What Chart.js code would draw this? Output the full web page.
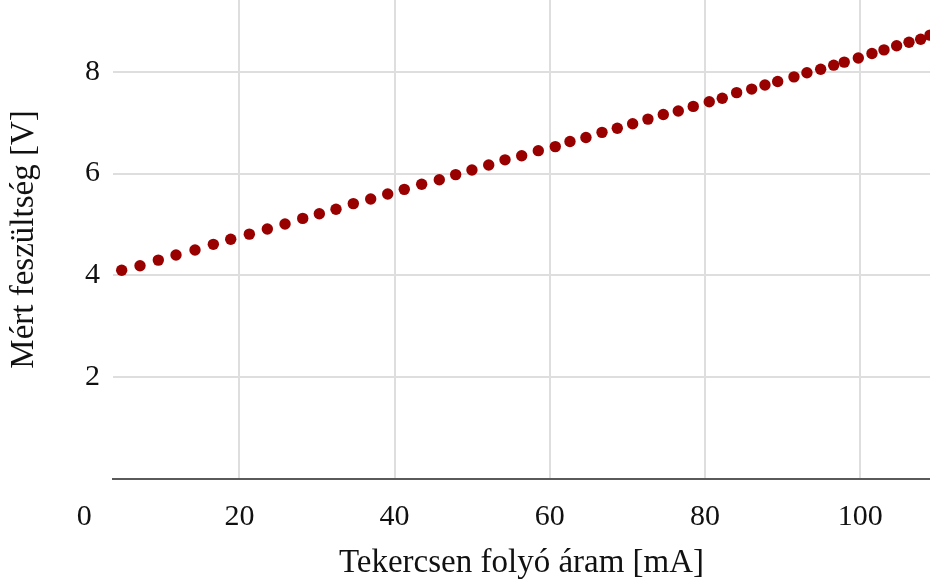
<!DOCTYPE html>
<html>
<head>
<meta charset="utf-8">
<script src="https://cdn.jsdelivr.net/npm/chart.js@4/dist/chart.umd.min.js"></script>
<style>
  body { margin: 0; background: #fff; }
  #wrap { width: 930px; height: 580px; }
</style>
</head>
<body>
<div id="wrap"><canvas id="coilChart" width="930" height="580"></canvas></div>
<script>
// measured current (mA) and voltage (V)
const currentMA = [4.83, 7.19, 9.55, 11.83, 14.28, 16.64, 18.88, 21.28, 23.60, 25.88,
  28.16, 30.30, 32.45, 34.68, 36.92, 39.11, 41.25, 43.49, 45.76, 47.87,
  49.97, 52.13, 54.23, 56.38, 58.52, 60.71, 62.60, 64.66, 66.73, 68.70,
  70.68, 72.65, 74.63, 76.56, 78.49, 80.55, 82.23, 84.08, 86.02, 87.73,
  89.37, 91.47, 93.14, 94.91, 96.59, 97.95, 99.76, 101.52, 103.07, 104.70,
  106.29, 107.80, 109.0];
const voltageV = [4.10, 4.19, 4.30, 4.40, 4.50, 4.61, 4.71, 4.81, 4.91, 5.01,
  5.12, 5.21, 5.30, 5.41, 5.50, 5.60, 5.69, 5.79, 5.88, 5.98,
  6.07, 6.17, 6.27, 6.35, 6.45, 6.53, 6.63, 6.71, 6.81, 6.89,
  6.98, 7.07, 7.16, 7.23, 7.32, 7.41, 7.48, 7.59, 7.66, 7.74,
  7.81, 7.90, 7.98, 8.05, 8.13, 8.19, 8.27, 8.36, 8.43, 8.51,
  8.58, 8.64, 8.72];

const xTicks = [0, 20, 40, 60, 80, 100];
const yTicks = [2, 4, 6, 8];

const points = currentMA.map((x, i) => ({ x: x, y: voltageV[i] }));

const serif = "'Liberation Serif', 'Times New Roman', serif";

const ctx = document.getElementById("coilChart").getContext("2d");

new Chart(ctx, {
  type: "scatter",
  data: {
    datasets: [
      {
        label: "Mért feszültség",
        data: points,
        backgroundColor: "#990000",
        borderWidth: 0,
        pointRadius: 5.7,
        pointHoverRadius: 5.7,
      },
    ],
  },
  options: {
    responsive: false,
    animation: false,
    layout: { padding: 0, autoPadding: false },
    plugins: {
      legend: { display: false },
      tooltip: { enabled: false },
    },
    scales: {
      x: {
        type: "linear",
        min: 3.71,
        max: 109.0,
        afterBuildTicks: (scale) => {
          scale.ticks = xTicks.map((v) => ({ value: v }));
        },
        afterFit: (scale) => {
          scale.height = 101;
          scale.paddingLeft = 0;
          scale.paddingRight = 0;
        },
        ticks: {
          color: "#111",
          font: { family: serif, size: 30 },
          padding: 20,
          maxRotation: 0,
        },
        grid: {
          drawTicks: false,
          lineWidth: 2,
          color: (c) => (c.tick && c.tick.value === 0 ? "rgba(0,0,0,0)" : "#dedede"),
        },
        border: { display: true, color: "#5a5a5a", width: 2 },
        title: {
          display: true,
          text: "Tekercsen folyó áram [mA]",
          color: "#111",
          font: { family: serif, size: 33 },
          padding: { top: 0, bottom: -3 },
        },
      },
      y: {
        type: "linear",
        min: 0,
        max: 9.41,
        afterBuildTicks: (scale) => {
          scale.ticks = yTicks.map((v) => ({ value: v }));
        },
        afterFit: (scale) => {
          scale.width = 113;
          scale.paddingTop = 0;
          scale.paddingBottom = 0;
        },
        ticks: {
          color: "#111",
          font: { family: serif, size: 30 },
          padding: 13,
        },
        grid: {
          drawTicks: false,
          lineWidth: 2,
          color: "#dedede",
        },
        border: { display: false },
        title: {
          display: true,
          text: "Mért feszültség [V]",
          color: "#111",
          font: { family: serif, size: 33 },
          padding: { top: 5, bottom: 0 },
        },
      },
    },
  },
});
</script>
</body>
</html>
